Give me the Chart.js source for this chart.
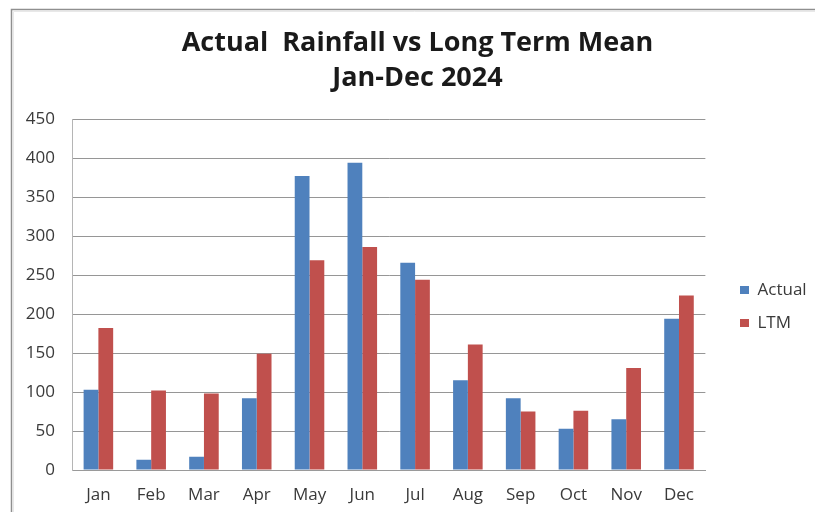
<!DOCTYPE html>
<html>
<head>
<meta charset="utf-8">
<script src="https://cdn.jsdelivr.net/npm/chart.js@4.4.1/dist/chart.umd.min.js"></script>
<style>
  html, body { margin: 0; padding: 0; background: #ffffff; }
  #wrap { width: 815px; height: 512px; position: relative; }
</style>
</head>
<body>
<div id="wrap"><canvas id="rain" width="815" height="512"></canvas></div>
<script>
// Monthly rainfall (mm), 2024 against the long term mean
const months = ['Jan', 'Feb', 'Mar', 'Apr', 'May', 'Jun', 'Jul', 'Aug', 'Sep', 'Oct', 'Nov', 'Dec'];
const actual = [103, 13, 17, 92, 377, 394, 266, 115, 92, 53, 65, 194];
const ltm = [182, 102, 98, 149, 269, 286, 244, 161, 75, 76, 131, 224];
const yTicks = [0, 50, 100, 150, 200, 250, 300, 350, 400, 450];

const FONT = '"Open Sans", Lato, "Liberation Sans", sans-serif';

// White page with a thin grey frame along the top and left edges
const framePlugin = {
  id: 'frame',
  beforeDraw(chart) {
    const ctx = chart.ctx;
    ctx.save();
    ctx.fillStyle = '#ffffff';
    ctx.fillRect(0, 0, chart.width, chart.height);
    ctx.strokeStyle = '#8f8f8f';
    ctx.lineWidth = 1.5;
    ctx.beginPath();
    ctx.moveTo(11.5, chart.height);
    ctx.lineTo(11.5, 9.5);
    ctx.lineTo(chart.width, 9.5);
    ctx.stroke();
    ctx.strokeStyle = '#e8e8e8';
    ctx.lineWidth = 1;
    ctx.beginPath();
    ctx.moveTo(13.5, chart.height);
    ctx.lineTo(13.5, 11.5);
    ctx.lineTo(chart.width, 11.5);
    ctx.stroke();
    ctx.restore();
  }
};

// Centre the title over the whole page and park the legend
// to the right of the plot, near its middle
const placeBlocks = {
  id: 'placeBlocks',
  afterLayout(chart) {
    const t = chart.titleBlock;
    if (t) { t.left = 22; t.right = chart.width - 2; t.width = t.right - t.left; }
    const lg = chart.legend;
    if (lg) {
      const w = lg.width, h = lg.height;
      lg.left = 724; lg.right = lg.left + w;
      lg.top = 265.5; lg.bottom = lg.top + h;
    }
  }
};

new Chart(document.getElementById('rain'), {
  type: 'bar',
  data: {
    labels: months,
    datasets: [
      { label: 'Actual', data: actual, backgroundColor: '#4F81BD', borderWidth: 0 },
      { label: 'LTM', data: ltm, backgroundColor: '#C0504D', borderWidth: 0 }
    ]
  },
  options: {
    responsive: false,
    animation: false,
    devicePixelRatio: 1,
    layout: { padding: { top: 26, left: 22, right: 17, bottom: 0 } },
    datasets: { bar: { categoryPercentage: 0.56, barPercentage: 1.0 } },
    plugins: {
      tooltip: { enabled: false },
      title: {
        display: true,
        text: ['Actual  Rainfall vs Long Term Mean', 'Jan-Dec 2024'],
        color: '#1a1a1a',
        font: { family: FONT, size: 27, weight: 'bold', lineHeight: 1.3 },
        padding: { top: 0, bottom: 23 }
      },
      legend: {
        position: 'right',
        align: 'start',
        labels: {
          color: '#3a3a3a',
          font: { family: FONT, size: 17 },
          boxWidth: 9,
          boxHeight: 8,
          padding: 16
        }
      }
    },
    scales: {
      x: {
        afterFit(axis) { axis.height = 42; },
        grid: { display: false, drawTicks: false },
        border: { display: true, color: '#9a9a9a', width: 1 },
        ticks: { color: '#3a3a3a', font: { family: FONT, size: 17 }, padding: 15 }
      },
      y: {
        min: 0,
        max: 450,
        afterFit(axis) { axis.width = 50; },
        afterBuildTicks(axis) { axis.ticks = yTicks.map(v => ({ value: v })); },
        grid: { color: '#969696', lineWidth: 1, drawTicks: false },
        border: { display: true, color: '#b5b5b5', width: 1 },
        ticks: { color: '#3a3a3a', font: { family: FONT, size: 17 }, padding: 17 }
      }
    }
  },
  plugins: [framePlugin, placeBlocks]
});
</script>
</body>
</html>
